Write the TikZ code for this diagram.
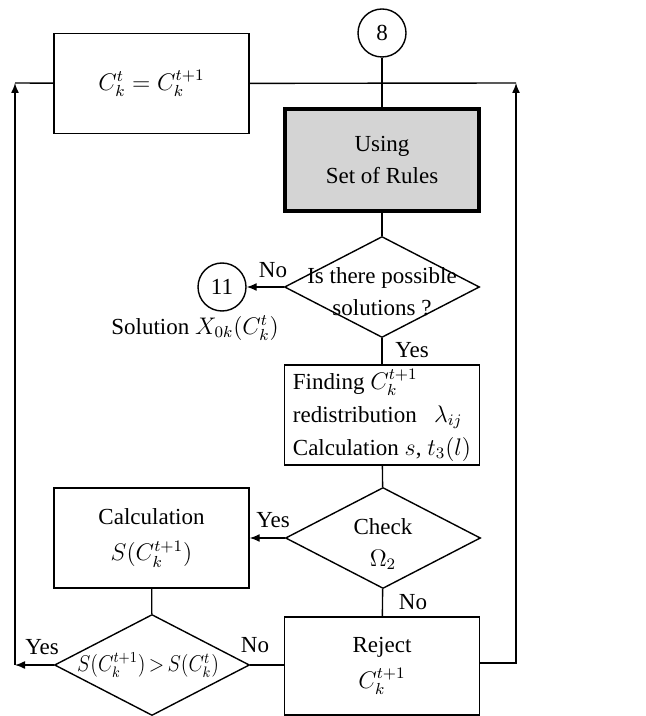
\documentclass[tikz,border=0pt]{standalone}
\usepackage{fontspec}
\setmainfont{Liberation Serif}
\usetikzlibrary{shapes.geometric, arrows.meta}

\begin{document}
\begin{tikzpicture}[
	x=0.5pt, y=-0.5pt,
	>={Latex[length=5pt, width=4pt]},
	font=\fontsize{11.5}{16}\selectfont,
	% Styles for the flowchart blocks
	procbox/.style={draw, line width=0.7pt, minimum width=97.5pt, minimum height=50pt, align=center, inner sep=2pt},
	rulebox/.style={procbox, fill=black!17, line width=2.2pt, minimum width=97pt, minimum height=51pt},
	decision/.style={draw, diamond, line width=0.7pt, minimum width=97.5pt, minimum height=50.5pt, inner sep=0pt},
	dtext/.style={align=center, inner sep=0pt},
	connector/.style={draw, circle, line width=0.7pt, minimum size=24pt, inner sep=0pt},
	flow/.style={line width=0.7pt},
	answer/.style={inner sep=1pt}
	]
	
	\useasboundingbox (0,0) rectangle (646,716);
	
	% ==========================================
	% 1. TOP PART
	% ==========================================
	\node[connector] (c8) at (382,33) {8};
	\node[procbox] (same) at (151.5,83.5) {$C_k^t = C_k^{t+1}$};
	\node[rulebox] (rules) at (382,160) {Using\\Set of Rules};
	
	% First decision and exit connector
	\node[decision] (d1) at (382,287) {};
	\node[dtext] (d1t) at (382,292) {Is there possible\\solutions ?};
	\node[connector] (c11) at (222,287) {11};
	\node[answer] (sol) at (195,328) {Solution $X_{0k}(C_k^t)$};
	
	% ==========================================
	% 2. MIDDLE PART
	% ==========================================
	\node[procbox, align=left, font=\fontsize{11.5}{16.5}\selectfont] (find) at (382,415) {Finding $C_k^{t+1}$\\redistribution\enspace\ $\lambda_{ij}$\\Calculation $s$, $t_3(l)$};
	
	\node[decision] (d2) at (383,538) {};
	\node[dtext] (d2t) at (383,544) {Check\\$\Omega_2$};
	\node[procbox, font=\fontsize{11.5}{18}\selectfont] (calc) at (151.5,538) {Calculation\\$S(C_k^{t+1})$};
	
	% ==========================================
	% 3. BOTTOM PART
	% ==========================================
	\node[decision] (d3) at (152,665) {};
	\node[dtext] (d3t) at (148,665) {\scalebox{0.84}[0.95]{$S(C_k^{t+1})\,{>}\,S(C_k^t)$}};
	\node[procbox, minimum height=49pt, font=\fontsize{11.5}{18}\selectfont] (reject) at (382,666) {Reject\\$C_k^{t+1}$};
	
	% Branch labels
	\node[answer] (no1) at (273,270) {No};
	\node[answer] (yes1) at (412,350) {Yes};
	\node[answer] (yes2) at (273,520) {Yes};
	\node[answer] (no2) at (413,602) {No};
	\node[answer] (no3) at (255,645) {No};
	\node[answer] (yes3) at (42,647) {Yes};
	
	% Loop corners
	\coordinate (lbot) at (15,665);
	\coordinate (ltop) at (15,83);
	\coordinate (rbot) at (516,663);
	\coordinate (rtop) at (516,83);
	
	% Connectors
	\draw[flow] (c8) -- (rules);
	\draw[flow] (rules) -- (d1);
	\draw[flow, ->] (d1) -- (c11);
	\draw[flow] (d1) -- (find);
	\draw[flow] (find) -- (d2);
	\draw[flow, ->] (d2) -- (calc);
	\draw[flow] (d2) -- (reject);
	\draw[flow] (calc) -- (d3);
	\draw[flow] (d3.east) -- (reject.west |- d3.east);
	\draw[flow, ->] (d3) -- (lbot);
	\draw[flow, ->] (lbot) -- (ltop);
	\draw[flow] (ltop) -- (same);
	\draw[flow] (same) -- (rtop);
	\draw[flow, ->] (reject.east |- rbot) -- (rbot) -- (rtop);
	
\end{tikzpicture}
\end{document}
